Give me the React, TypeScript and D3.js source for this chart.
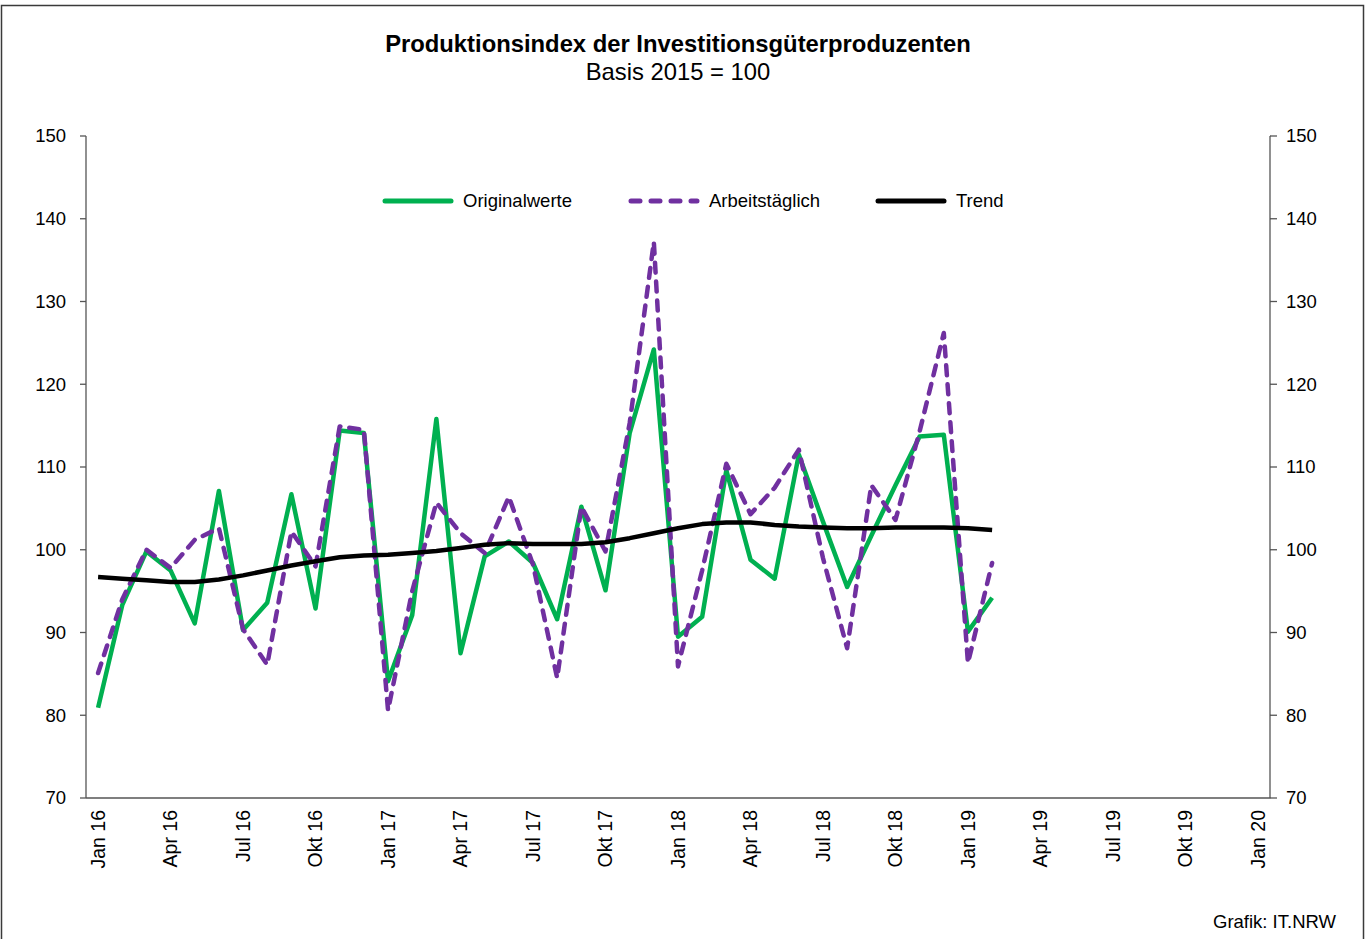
import React from 'react';
import * as d3 from 'd3';

const WIDTH = 1369;
const HEIGHT = 939;
const MARGIN = { top: 136, right: 99, bottom: 141, left: 86 };

const MONTHS = ['Jan', 'Feb', 'Mrz', 'Apr', 'Mai', 'Jun', 'Jul', 'Aug', 'Sep', 'Okt', 'Nov', 'Dez'];
const YEARS = ['16', '17', '18', '19', '20'];

// Jan 16 .. Feb 19
const originalwerte = [
  80.9, 93.3, 99.8, 97.5, 91.1, 107.1, 90.3, 93.6, 106.7, 92.9, 114.4, 114.1,
  84.1, 92.1, 115.8, 87.5, 99.2, 101.0, 98.4, 91.6, 105.2, 95.1, 114.1, 124.2,
  89.5, 91.9, 109.6, 98.8, 96.5, 111.5, 103.4, 95.5, 101.7, 107.8, 113.7, 113.9,
  90.1, 94.2,
];
const arbeitstaeglich = [
  85.1, 94.0, 100.0, 97.8, 101.2, 102.6, 90.4, 86.1, 102.2, 98.0, 114.9, 114.5,
  80.6, 95.0, 105.7, 102.0, 99.6, 106.4, 98.2, 84.5, 105.2, 99.8, 115.3, 137.2,
  85.9, 97.5, 110.4, 104.3, 107.5, 112.1, 99.0, 88.1, 107.8, 103.6, 114.3, 126.2,
  86.3, 98.4,
];
const trend = [
  96.7, 96.5, 96.3, 96.1, 96.1, 96.4, 96.9, 97.5, 98.1, 98.6, 99.1, 99.3,
  99.4, 99.6, 99.85, 100.2, 100.6, 100.8, 100.7, 100.7, 100.7, 100.9, 101.4, 102.0,
  102.6, 103.1, 103.3, 103.3, 103.0, 102.8, 102.7, 102.6, 102.6, 102.7, 102.7, 102.7,
  102.6, 102.4,
];
const yTicks = [70, 80, 90, 100, 110, 120, 130, 140, 150];

const SERIES = [
  { name: 'Originalwerte', values: originalwerte, color: '#00B050', dash: null, legendX: 383 },
  { name: 'Arbeitstäglich', values: arbeitstaeglich, color: '#7030A0', dash: '10 9', legendX: 629 },
  { name: 'Trend', values: trend, color: '#000000', dash: null, legendX: 876 },
];

const FONT = 'Liberation Sans, Arial, sans-serif';

const App = () => {
  const boundsWidth = WIDTH - MARGIN.left - MARGIN.right;
  const boundsHeight = HEIGHT - MARGIN.top - MARGIN.bottom;

  const categories: string[] = [];
  YEARS.forEach((y, yi) => {
    MONTHS.forEach((m) => {
      if (yi < YEARS.length - 1 || m === 'Jan') categories.push(`${m} ${y}`);
    });
  });

  const xScale = d3.scaleBand().domain(categories).range([0, boundsWidth]).padding(0);
  const yScale = d3.scaleLinear().domain([70, 150]).range([boundsHeight, 0]);
  const cx = (i: number) => (xScale(categories[i]) ?? 0) + xScale.bandwidth() / 2;

  const line = d3
    .line<number>()
    .x((_, i) => cx(i))
    .y((d) => yScale(d));

  return (
    <svg width={WIDTH} height={HEIGHT} style={{ position: 'absolute', left: 0, top: 0, background: '#fff' }}>
      <rect x={1.5} y={5.5} width={1362} height={HEIGHT + 10} fill="#fff" stroke="#3a3a3a" strokeWidth={1.5} />

      <text x={678} y={52} textAnchor="middle" fontFamily={FONT} fontWeight="bold" fontSize={23.8}>
        Produktionsindex der Investitionsgüterproduzenten
      </text>
      <text x={678} y={80} textAnchor="middle" fontFamily={FONT} fontSize={23.8}>
        Basis 2015 = 100
      </text>

      <g transform={`translate(${MARGIN.left},${MARGIN.top})`}>
        {/* axes */}
        <line x1={0} x2={0} y1={0} y2={boundsHeight} stroke="#555" strokeWidth={1.3} />
        <line x1={boundsWidth} x2={boundsWidth} y1={0} y2={boundsHeight} stroke="#555" strokeWidth={1.3} />
        <line x1={0} x2={boundsWidth} y1={boundsHeight} y2={boundsHeight} stroke="#555" strokeWidth={1.3} />
        {yTicks.map((t) => (
          <g key={t}>
            <line x1={-6} x2={0} y1={yScale(t)} y2={yScale(t)} stroke="#555" strokeWidth={1.3} />
            <line x1={boundsWidth} x2={boundsWidth + 7} y1={yScale(t)} y2={yScale(t)} stroke="#555" strokeWidth={1.3} />
            <text x={-20} y={yScale(t)} dy="0.35em" textAnchor="end" fontFamily={FONT} fontSize={18.5}>
              {t}
            </text>
            <text x={boundsWidth + 16} y={yScale(t)} dy="0.35em" textAnchor="start" fontFamily={FONT} fontSize={18.5}>
              {t}
            </text>
          </g>
        ))}
        {categories.map((c, i) =>
          i % 3 === 0 ? (
            <text
              key={c}
              transform={`translate(${cx(i)},${boundsHeight + 12}) rotate(-90)`}
              dy="0.35em"
              textAnchor="end"
              fontFamily={FONT}
              fontSize={19.5}
            >
              {c}
            </text>
          ) : null
        )}

        {/* series */}
        {SERIES.map((s) => (
          <path
            key={s.name}
            d={line(s.values) ?? ''}
            fill="none"
            stroke={s.color}
            strokeWidth={4.5}
            strokeDasharray={s.dash ?? undefined}
            strokeLinejoin="round"
            strokeLinecap={s.dash ? 'round' : 'butt'}
          />
        ))}
      </g>

      {/* legend */}
      {SERIES.map((s) => (
        <g key={s.name} transform={`translate(${s.legendX},201)`}>
          <line
            x1={2}
            x2={68}
            y1={0}
            y2={0}
            stroke={s.color}
            strokeWidth={5}
            strokeLinecap="round"
            strokeDasharray={s.dash ? '9 11' : undefined}
          />
          <text x={80} y={0} dy="0.35em" fontFamily={FONT} fontSize={18.5}>
            {s.name}
          </text>
        </g>
      ))}

      <text x={1336} y={928} textAnchor="end" fontFamily={FONT} fontSize={18.5}>
        Grafik: IT.NRW
      </text>
    </svg>
  );
};

export default App;
